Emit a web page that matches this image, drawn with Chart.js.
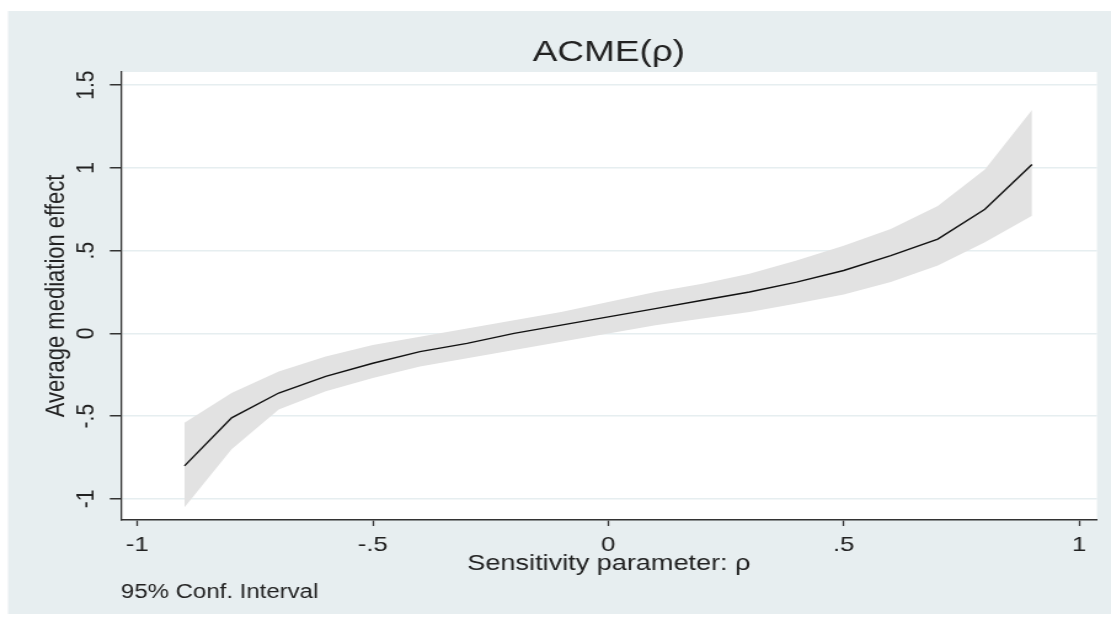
<!DOCTYPE html>
<html>
<head>
<meta charset="utf-8">
<script src="https://cdn.jsdelivr.net/npm/chart.js@4/dist/chart.umd.min.js"></script>
<style>
  html, body { margin: 0; padding: 0; background: #ffffff; overflow: hidden; width: 1111px; height: 617px; }
  #c { position: absolute; left: 0; top: 0; transform: scaleX(1.2303); transform-origin: 0 0; }
</style>
</head>
<body>
<canvas id="c" width="903" height="617"></canvas>
<script>
// ---- data ----
const rho      = [-0.9, -0.8, -0.7, -0.6, -0.5, -0.4, -0.3, -0.2, -0.1, 0.0, 0.1, 0.2, 0.3, 0.4, 0.5, 0.6, 0.7, 0.8, 0.9];
const acme     = [-0.80, -0.51, -0.36, -0.26, -0.18, -0.11, -0.06, 0.00, 0.05, 0.10, 0.15, 0.20, 0.25, 0.31, 0.38, 0.47, 0.57, 0.75, 1.02];
const ciUpper  = [-0.54, -0.36, -0.23, -0.14, -0.07, -0.02, 0.03, 0.08, 0.13, 0.19, 0.25, 0.30, 0.36, 0.44, 0.53, 0.63, 0.77, 0.99, 1.35];
const ciLower  = [-1.05, -0.70, -0.46, -0.35, -0.27, -0.20, -0.15, -0.10, -0.05, 0.00, 0.05, 0.09, 0.13, 0.18, 0.235, 0.31, 0.41, 0.55, 0.71];

const xTicks      = [-1, -0.5, 0, 0.5, 1];
const xTickLabels = ['-1', '-.5', '0', '.5', '1'];
const yTicks      = [-1, -0.5, 0, 0.5, 1, 1.5];
const yTickLabels = ['-1', '-.5', '0', '.5', '1', '1.5'];

const titleText  = 'ACME(\u03c1)';
const xTitleText = 'Sensitivity parameter: \u03c1';
const yTitleText = 'Average mediation effect';
const noteText   = '95% Conf. Interval';

const pts = ys => rho.map((x, i) => ({ x: x, y: ys[i] }));

Chart.defaults.font.family = "'Liberation Sans', Arial, sans-serif";
Chart.defaults.color = '#222';

const bgPlugin = {
  id: 'bg',
  beforeDraw(chart) {
    const { ctx, chartArea } = chart;
    ctx.save();
    ctx.fillStyle = '#e7eef0';
    ctx.fillRect(6.5, 11, chart.width - 6.5, 603);
    ctx.fillStyle = '#ffffff';
    ctx.fillRect(chartArea.left, chartArea.top, chartArea.right - chartArea.left, chartArea.bottom - chartArea.top);
    ctx.restore();
  }
};

new Chart(document.getElementById('c'), {
  type: 'line',
  data: {
    datasets: [
      { label: 'ACME', data: pts(acme), borderColor: '#111111', borderWidth: 1.4, pointRadius: 0, fill: false, tension: 0 },
      { label: 'lower', data: pts(ciLower), borderColor: 'rgba(0,0,0,0)', borderWidth: 1, pointRadius: 0, fill: false, backgroundColor: 'rgba(0,0,0,0)' },
      { label: noteText, data: pts(ciUpper), borderColor: 'rgba(0,0,0,0)', borderWidth: 1, pointRadius: 0, fill: '-1', backgroundColor: '#e2e2e2' }
    ]
  },
  options: {
    responsive: false,
    animation: false,
    layout: { padding: { left: 0, right: 11.4, top: 0, bottom: 0 } },
    plugins: {
      legend: { display: false },
      tooltip: { enabled: false },
      title: {
        display: true, text: titleText, fullSize: false,
        font: { size: 30, weight: 'normal' }, color: '#222',
        padding: { top: 35, bottom: 1 }
      },
      subtitle: {
        display: true, text: noteText, position: 'bottom', align: 'start', fullSize: false,
        font: { size: 19.5, weight: 'normal' }, color: '#222',
        padding: { top: 0, bottom: 13 }
      }
    },
    scales: {
      x: {
        type: 'linear', min: -1.035, max: 1.038,
        afterBuildTicks: s => { s.ticks = xTicks.map(v => ({ value: v })); },
        afterFit: s => { s.height = 60.6; },
        ticks: {
          callback: v => xTickLabels[xTicks.indexOf(v)],
          font: { size: 21 }, color: '#222', padding: 7, maxRotation: 0, autoSkip: false
        },
        grid: { drawOnChartArea: false, tickLength: 6, tickColor: '#333', tickWidth: 1.3 },
        border: { color: '#333', width: 1.6 },
        title: { display: true, text: xTitleText, font: { size: 22 }, color: '#222', padding: { top: 0, bottom: 3 } }
      },
      y: {
        type: 'linear', min: -1.127, max: 1.579,
        afterBuildTicks: s => { s.ticks = yTicks.map(v => ({ value: v })); },
        afterFit: s => { s.width = 98.3; },
        ticks: {
          callback: v => yTickLabels[yTicks.indexOf(v)],
          font: { size: 21 }, color: '#222', padding: 5,
          minRotation: 90, maxRotation: 90, crossAlign: 'center', autoSkip: false
        },
        grid: { color: '#e6eef0', lineWidth: 1.5, tickLength: 9, tickColor: '#333', tickWidth: 1.5 },
        border: { color: '#333', width: 1.3 },
        title: { display: true, text: yTitleText, font: { size: 22 }, color: '#222', padding: { top: 33, bottom: 0 } }
      }
    }
  },
  plugins: [bgPlugin]
});
</script>
</body>
</html>
